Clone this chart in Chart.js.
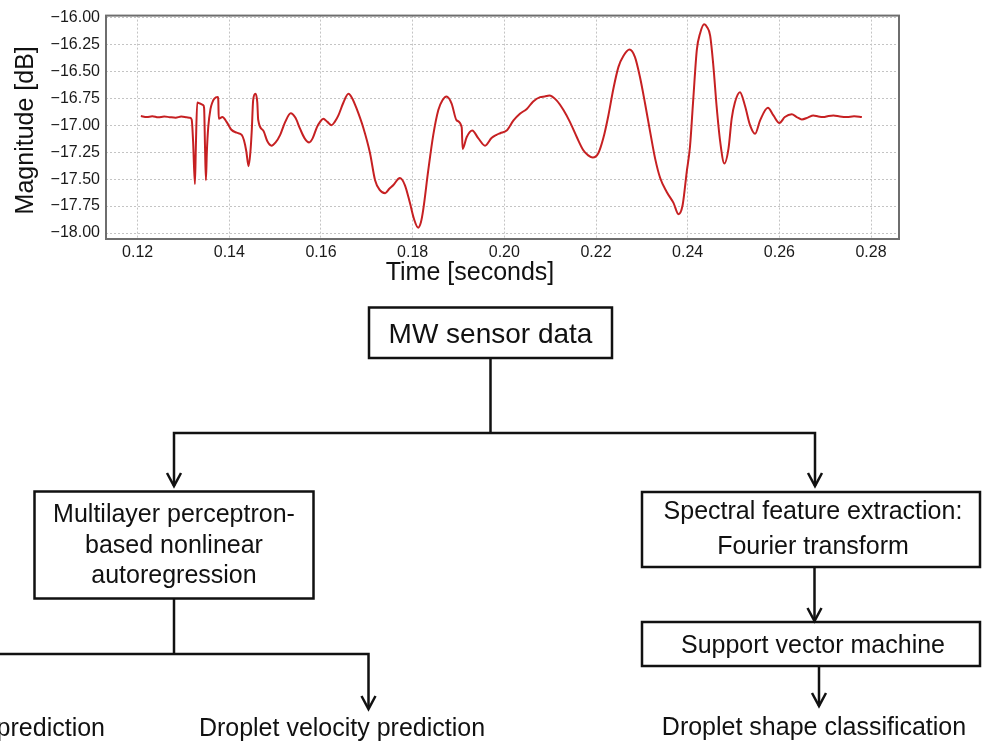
<!DOCTYPE html>
<html>
<head>
<meta charset="utf-8">
<title>MW sensor data</title>
<script src="https://cdn.jsdelivr.net/npm/chart.js@4.4.0/dist/chart.umd.min.js"></script>
<style>
  body { margin: 0; background: #fff; }
  #page { position: relative; width: 982px; height: 747px; overflow: hidden; }
  #signal { position: absolute; left: 0; top: 0; }
  #flow { position: absolute; left: 0; top: 0; font-family: "Liberation Sans", Arial, sans-serif; }
  #flow text { fill: #111; font-size: 25px; text-anchor: middle; }
</style>
</head>
<body>
<div id="page">
  <canvas id="signal" width="982" height="290"></canvas>

  <!-- processing flow below the signal -->
  <svg id="flow" width="982" height="747">
    <g fill="none" stroke="#111" stroke-width="2.5">
      <rect x="369" y="307.5" width="243" height="50.5"/>
      <polyline points="490.5,358 490.5,433"/>
      <polyline points="174,486 174,433 815,433 815,486"/>
      <polyline points="167,473 174,486 181,473"/>
      <polyline points="808,473 815,486 822,473"/>

      <rect x="34.5" y="491.5" width="279" height="107"/>
      <polyline points="174,598.5 174,654"/>
      <polyline points="-5,654 368.5,654 368.5,709"/>
      <polyline points="361.5,696 368.5,709 375.5,696"/>

      <rect x="642" y="492" width="338" height="75"/>
      <polyline points="814.5,567 814.5,621"/>
      <polyline points="807.5,608 814.5,621 821.5,608"/>

      <rect x="642" y="622" width="338" height="44"/>
      <polyline points="819,666 819,706"/>
      <polyline points="812,693 819,706 826,693"/>
    </g>

    <text x="490.5" y="343" style="font-size:28px">MW sensor data</text>

    <text x="174" y="521.5">Multilayer perceptron-</text>
    <text x="174" y="553">based nonlinear</text>
    <text x="174" y="583">autoregression</text>

    <text x="813" y="519">Spectral feature extraction:</text>
    <text x="813" y="553.5">Fourier transform</text>
    <text x="813" y="653">Support vector machine</text>

    <text x="105" y="736" style="text-anchor:end">prediction</text>
    <text x="342" y="736">Droplet velocity prediction</text>
    <text x="814" y="735">Droplet shape classification</text>
  </svg>
</div>

<script>
// Sensor trace: time in seconds and magnitude in dB
const timeSec = [
  0.1207, 0.1220, 0.1232, 0.1245, 0.1258, 0.1270, 0.1283, 0.1295, 0.1307, 0.1314,
  0.1318, 0.1321, 0.1325, 0.1327, 0.1330, 0.1336, 0.1343, 0.1345, 0.1347, 0.1349,
  0.1351, 0.1354, 0.1359, 0.1363, 0.1367, 0.1375, 0.1376, 0.1377, 0.1385, 0.1394,
  0.1404, 0.1416, 0.1427, 0.1432, 0.1437, 0.1442, 0.1446, 0.1449, 0.1452, 0.1457,
  0.1461, 0.1463, 0.1474, 0.1483, 0.1492, 0.1501, 0.1511, 0.1522, 0.1534, 0.1544,
  0.1554, 0.1564, 0.1574, 0.1582, 0.1591, 0.1598, 0.1605, 0.1614, 0.1623, 0.1630,
  0.1638, 0.1649, 0.1660, 0.1668, 0.1678, 0.1692, 0.1707, 0.1718, 0.1728, 0.1740,
  0.1749, 0.1758, 0.1772, 0.1783, 0.1794, 0.1803, 0.1812, 0.1818, 0.1823, 0.1834,
  0.1845, 0.1856, 0.1865, 0.1874, 0.1885, 0.1896, 0.1907, 0.1909, 0.1918, 0.1930,
  0.1943, 0.1958, 0.1972, 0.1983, 0.1991, 0.2005, 0.2020, 0.2034, 0.2049, 0.2063,
  0.2078, 0.2088, 0.2098, 0.2114, 0.2129, 0.2143, 0.2158, 0.2172, 0.2183, 0.2193,
  0.2205, 0.2216, 0.2227, 0.2238, 0.2249, 0.2260, 0.2273, 0.2285, 0.2296, 0.2307,
  0.2318, 0.2329, 0.2340, 0.2354, 0.2369, 0.2380, 0.2389, 0.2398, 0.2405, 0.2412,
  0.2420, 0.2427, 0.2436, 0.2442, 0.2449, 0.2456, 0.2463, 0.2471, 0.2480, 0.2489,
  0.2496, 0.2503, 0.2514, 0.2525, 0.2536, 0.2547, 0.2558, 0.2575, 0.2587, 0.2600,
  0.2612, 0.2627, 0.2638, 0.2649, 0.2662, 0.2674, 0.2685, 0.2696, 0.2707, 0.2718,
  0.2732, 0.2747, 0.2763, 0.2780
];
const magnitudeDb = [
  -16.915, -16.925, -16.918, -16.928, -16.920, -16.926, -16.931, -16.921, -16.927, -16.932,
  -16.950, -17.150, -17.546, -17.200, -16.790, -16.800, -16.815, -16.840, -17.200, -17.510,
  -17.250, -17.020, -16.850, -16.790, -16.756, -16.740, -16.770, -16.940, -16.925, -16.970,
  -17.040, -17.070, -17.090, -17.140, -17.240, -17.380, -17.250, -17.050, -16.770, -16.710,
  -16.787, -16.950, -17.050, -17.150, -17.190, -17.160, -17.090, -16.970, -16.890, -16.930,
  -17.030, -17.120, -17.160, -17.120, -17.020, -16.970, -16.940, -16.970, -17.000, -16.970,
  -16.910, -16.790, -16.710, -16.750, -16.850, -17.020, -17.260, -17.510, -17.600, -17.630,
  -17.590, -17.555, -17.490, -17.555, -17.720, -17.870, -17.950, -17.900, -17.785, -17.420,
  -17.090, -16.860, -16.770, -16.735, -16.800, -16.956, -17.020, -17.220, -17.110, -17.050,
  -17.120, -17.190, -17.120, -17.090, -17.075, -17.050, -16.956, -16.894, -16.850, -16.780,
  -16.740, -16.735, -16.725, -16.770, -16.860, -16.970, -17.110, -17.230, -17.280, -17.300,
  -17.260, -17.120, -16.910, -16.660, -16.460, -16.357, -16.300, -16.370, -16.557, -16.800,
  -17.060, -17.310, -17.490, -17.617, -17.720, -17.825, -17.740, -17.430, -17.200, -16.770,
  -16.300, -16.150, -16.065, -16.090, -16.170, -16.450, -16.820, -17.156, -17.355, -17.217,
  -16.940, -16.790, -16.695, -16.820, -17.000, -17.080, -16.956, -16.840, -16.910, -16.980,
  -16.925, -16.900, -16.925, -16.947, -16.930, -16.910, -16.920, -16.925, -16.915, -16.910,
  -16.920, -16.925, -16.918, -16.925
];

// Axis ticks
const xTickValues = [0.12, 0.14, 0.16, 0.18, 0.20, 0.22, 0.24, 0.26, 0.28];
const yTickValues = [-18.00, -17.75, -17.50, -17.25, -17.00, -16.75, -16.50, -16.25, -16.00];

const points = timeSec.map((t, i) => ({ x: t, y: magnitudeDb[i] }));
const minus = s => s.replace('-', '\u2212');

// grey frame round the plot area, drawn over the trace
const plotFrame = {
  id: 'plotFrame',
  afterDraw(chart) {
    const a = chart.chartArea, ctx = chart.ctx;
    ctx.save();
    ctx.strokeStyle = '#6e6e6e';
    ctx.lineWidth = 2;
    ctx.strokeRect(a.left, a.top, a.right - a.left, a.bottom - a.top);
    ctx.restore();
  }
};

// axis titles, placed relative to the chart area
const axisTitles = {
  id: 'axisTitles',
  afterDraw(chart) {
    const a = chart.chartArea, ctx = chart.ctx;
    ctx.save();
    ctx.fillStyle = '#111';
    ctx.font = '25px "Liberation Sans", Arial, sans-serif';
    ctx.textAlign = 'center';
    ctx.textBaseline = 'alphabetic';
    ctx.fillText('Time [seconds]', a.left + 364, a.bottom + 41);
    ctx.translate(a.left - 73, (a.top + a.bottom) / 2 + 3);
    ctx.rotate(-Math.PI / 2);
    ctx.fillText('Magnitude [dB]', 0, 0);
    ctx.restore();
  }
};

const tickFont = { family: '"Liberation Sans", Arial, sans-serif', size: 16 };

new Chart(document.getElementById('signal'), {
  type: 'line',
  data: {
    datasets: [{
      data: points,
      borderColor: '#c62022',
      borderWidth: 2,
      pointRadius: 0,
      fill: false,
      cubicInterpolationMode: 'monotone'
    }]
  },
  options: {
    responsive: false,
    animation: false,
    devicePixelRatio: 1,
    layout: { padding: { top: 14, right: 83, left: 0, bottom: 0 } },
    plugins: { legend: { display: false }, tooltip: { enabled: false } },
    scales: {
      x: {
        type: 'linear',
        min: 0.1131,
        max: 0.2861,
        afterFit: s => { s.height = 51; },
        afterBuildTicks: s => { s.ticks = xTickValues.map(v => ({ value: v })); },
        grid: { color: '#c4c4c4', lineWidth: 1, drawTicks: false },
        border: { display: false, dash: [2, 2] },
        ticks: {
          color: '#1a1a1a',
          font: tickFont,
          padding: 4,
          maxRotation: 0,
          callback: v => v.toFixed(2)
        }
      },
      y: {
        min: -18.055,
        max: -15.985,
        afterFit: s => { s.width = 106; },
        afterBuildTicks: s => { s.ticks = yTickValues.map(v => ({ value: v })); },
        grid: { color: '#c4c4c4', lineWidth: 1, drawTicks: false },
        border: { display: false, dash: [2, 2] },
        ticks: {
          color: '#1a1a1a',
          font: tickFont,
          padding: 6,
          callback: v => minus(v.toFixed(2))
        }
      }
    }
  },
  plugins: [plotFrame, axisTitles]
});
</script>
</body>
</html>
